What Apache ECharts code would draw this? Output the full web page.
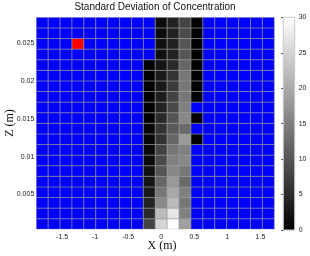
<!DOCTYPE html>
<html><head><meta charset="utf-8">
<script src="https://cdn.jsdelivr.net/npm/echarts@6/dist/echarts.min.js"></script>
<style>html,body{margin:0;padding:0;background:#fff}#c{width:310px;height:256px}</style>
</head><body><div id="c"></div>
<script>
// cell centres
const xCenters = [-1.8,-1.62,-1.44,-1.26,-1.08,-0.9,-0.72,-0.54,-0.36,-0.18,0,0.18,0.36,0.54,0.72,0.9,1.08,1.26,1.44,1.62];
const zCenters = [0.0011,0.0025,0.0039,0.0053,0.0067,0.0081,0.0095,0.0109,0.0123,0.0137,0.0151,0.0165,0.0179,0.0193,0.0207,0.0221,0.0235,0.0249,0.0263,0.0277];
// std values per column, bottom -> top (null = no data)
const stdAtXm018 = [8,4.9,4,3.1,2.5,2,1.4,1.2,0.9,0.9,0.3,0.3,0.3,0.3,0.3,0.3,null,null,null,null];
const stdAtX0    = [25,22,16,14,12,10,8.7,8,6,6,4.9,4,3.5,3.1,3.1,2.5,2,2,1.4,1.4];
const stdAtX018  = [30,27,22,20,18,16,15,14,12,10.6,10,8.7,8,6.8,6,4.9,4,4,4,4];
const stdAtX036  = [18.8,15,14,15,12.5,14,16,15,18,12.5,16,15,14,14,14,12,10,10,8.7,8];
const stdAtX054  = [null,null,null,null,null,null,null,null,0.3,null,0.3,null,0.3,0.3,0.3,0.3,0.3,0.3,0.3,0.3];
const flaggedCell = [-1.26, 0.0249]; // out-of-range cell (red)
const xTicks = [-1.5,-1,-0.5,0,0.5,1,1.5];
const zTicks = [0.005,0.01,0.015,0.02,0.025];
const colorTicks = [0,5,10,15,20,25,30];
const colorMin = 0, colorMax = 30;

const columns = {};
columns[xCenters.indexOf(-0.18)] = stdAtXm018;
columns[xCenters.indexOf(0)] = stdAtX0;
columns[xCenters.indexOf(0.18)] = stdAtX018;
columns[xCenters.indexOf(0.36)] = stdAtX036;
columns[xCenters.indexOf(0.54)] = stdAtX054;

const cells = [];
xCenters.forEach((x, i) => {
  zCenters.forEach((z, j) => {
    let v = columns[i] ? columns[i][j] : null;
    let code = (v === null || v === undefined) ? -1 : v;
    if (x === flaggedCell[0] && z === flaggedCell[1]) code = 999;
    cells.push([x, z, code]);
  });
});
const hx = (xCenters[1] - xCenters[0]) / 2;
const hz = (zCenters[1] - zCenters[0]) / 2;

function grayOf(v) {
  const t = Math.max(0, Math.min(1, (v - colorMin) / (colorMax - colorMin)));
  const g = Math.round(t * 255);
  return 'rgb(' + g + ',' + g + ',' + g + ')';
}

const chart = echarts.init(document.getElementById('c'), null, {renderer: 'canvas'});
const lblFont = {fontFamily: 'Liberation Sans', fontSize: 7, color: '#222'};
chart.setOption({
  animation: false,
  backgroundColor: '#fff',
  grid: [
    {left: 36.3, right: 35.7, top: 17.3, bottom: 26.7},
    {left: 283.3, width: 11.4, top: 17.3, bottom: 26}
  ],
  xAxis: [
    {type: 'value', gridIndex: 0, min: xCenters[0] - hx, max: xCenters[xCenters.length - 1] + hx,
     axisLine: {show: false}, splitLine: {show: false},
     axisTick: {show: false},
     axisLabel: Object.assign({customValues: xTicks, margin: 4}, lblFont)},
    {type: 'value', gridIndex: 1, min: 0, max: 1, show: false}
  ],
  yAxis: [
    {type: 'value', gridIndex: 0, min: zCenters[0] - hz, max: zCenters[zCenters.length - 1] + hz,
     axisLine: {show: false}, splitLine: {show: false},
     axisTick: {show: false},
     axisLabel: Object.assign({customValues: zTicks, margin: 2}, lblFont)},
    {type: 'value', gridIndex: 1, min: colorMin, max: colorMax, interval: 5, position: 'right',
     axisLine: {show: false}, splitLine: {show: false},
     axisTick: {show: true, inside: true, length: 2, lineStyle: {color: '#333'}},
     axisLabel: Object.assign({margin: 4}, lblFont)}
  ],
  series: [
    {
      type: 'custom', xAxisIndex: 0, yAxisIndex: 0, clip: true,
      data: cells,
      encode: {x: 0, y: 1},
      renderItem: function (params, api) {
        const x = api.value(0), z = api.value(1), v = api.value(2);
        const p0 = api.coord([x - hx, z + hz]);
        const p1 = api.coord([x + hx, z - hz]);
        let fill;
        if (v < 0) fill = '#0000ff';
        else if (v > colorMax) fill = '#ff0000';
        else fill = grayOf(v);
        return {type: 'rect', shape: {x: p0[0], y: p0[1], width: p1[0] - p0[0], height: p1[1] - p0[1]},
          style: {fill: fill, stroke: 'rgba(150,150,150,0.55)', lineWidth: 1}};
      }
    },
    {
      type: 'custom', xAxisIndex: 1, yAxisIndex: 1,
      data: [[colorMin, colorMax]],
      renderItem: function (params, api) {
        const p0 = api.coord([0, api.value(1)]);
        const p1 = api.coord([1, api.value(0)]);
        return {type: 'rect', shape: {x: p0[0], y: p0[1], width: p1[0] - p0[0], height: p1[1] - p0[1]},
          style: {fill: new echarts.graphic.LinearGradient(0, 0, 0, 1, [{offset: 0, color: '#ffffff'}, {offset: 1, color: '#000000'}]),
            stroke: '#c8c8c8', lineWidth: 1}};
      }
    }
  ],
  graphic: [
    {type: 'text', x: 155, y: 2,
     style: {text: 'Standard Deviation of Concentration', font: '10px "Liberation Sans"', fill: '#111', textAlign: 'center'}},
    {type: 'text', x: 162, y: 240, style: {text: 'X (m)', font: '12px "Liberation Serif"', fill: '#111', textAlign: 'center'}},
    {type: 'text', rotation: Math.PI / 2, x: 10, y: 123,
     style: {text: 'Z (m)', font: '12px "Liberation Serif"', fill: '#111', textAlign: 'center', textVerticalAlign: 'middle'}}
  ]
});
</script></body></html>
